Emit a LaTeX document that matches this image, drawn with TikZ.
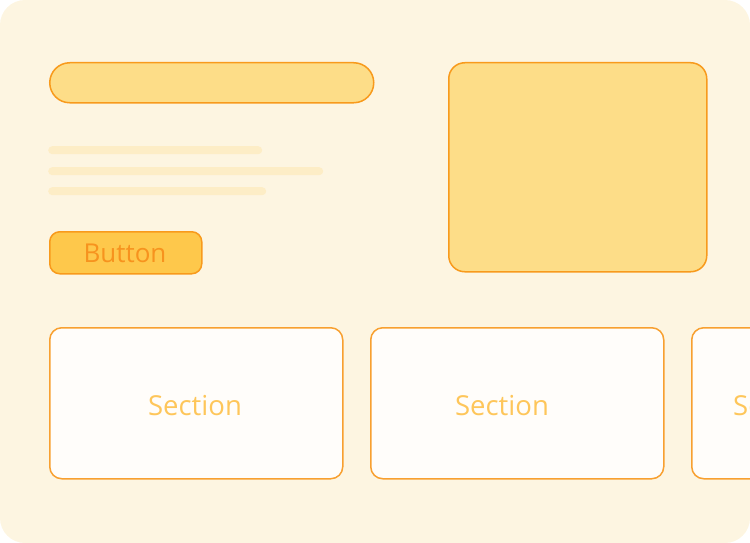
\documentclass[tikz,border=0pt]{standalone}
\usepackage{fontspec}
\setmainfont{Open Sans}
\definecolor{bgc}{HTML}{FDF5E1}
\definecolor{barfill}{HTML}{FDDD88}
\definecolor{strokec}{HTML}{F89A1C}
\definecolor{linec}{HTML}{FDEDC6}
\definecolor{btnfill}{HTML}{FEC84B}
\definecolor{btntext}{HTML}{F7931E}
\definecolor{secfill}{HTML}{FFFDFA}
\definecolor{secstroke}{HTML}{F8A030}
\definecolor{sectext}{HTML}{FEC65A}
\tikzset{
  shapebox/.style={draw=strokec, line width=1.5pt, fill=barfill, inner sep=0pt, anchor=north west},
  textline/.style={fill=linec, draw=none, rounded corners=4pt, inner sep=0pt, minimum height=8pt, anchor=north west},
  secbox/.style={draw=secstroke, line width=1.5pt, fill=secfill, rounded corners=12pt, inner sep=0pt, minimum width=293pt, minimum height=151pt, anchor=north west},
  sectxt/.style={text=sectext, font=\fontsize{27.5}{32}\selectfont},
}
\begin{document}
\begin{tikzpicture}[x=1pt,y=-1pt]
\useasboundingbox (0,0) rectangle (750,543);
\clip (0,0) rectangle (750,543);
\fill[bgc, rounded corners=25pt] (0,0) rectangle (750,543);
\node[shapebox, rounded corners=20pt, minimum width=324pt, minimum height=40pt] (title) at (49,62) {};
\node[textline, minimum width=214pt] (l1) at (48,146) {};
\node[textline, minimum width=275pt] (l2) at (48,167) {};
\node[textline, minimum width=218pt] (l3) at (48,187) {};
\node[shapebox, fill=btnfill, rounded corners=10pt, minimum width=152pt, minimum height=42pt] (btn) at (49,231) {};
\node[text=btntext, font=\fontsize{26}{31}\selectfont] (btntxt) at (125,253) {Button};
\node[shapebox, rounded corners=16pt, minimum width=258pt, minimum height=209pt] (img) at (448,62) {};
\node[secbox] (s1) at (49,327) {};
\node[sectxt] (s1t) at (195,406) {Section};
\node[secbox] (s2) at (370,327) {};
\node[sectxt] (s2t) at (502,406) {Section};
\node[secbox] (s3) at (691,327) {};
\node[sectxt, anchor=west, inner sep=0pt] (s3t) at (733,406) {Section};
\end{tikzpicture}
\end{document}
